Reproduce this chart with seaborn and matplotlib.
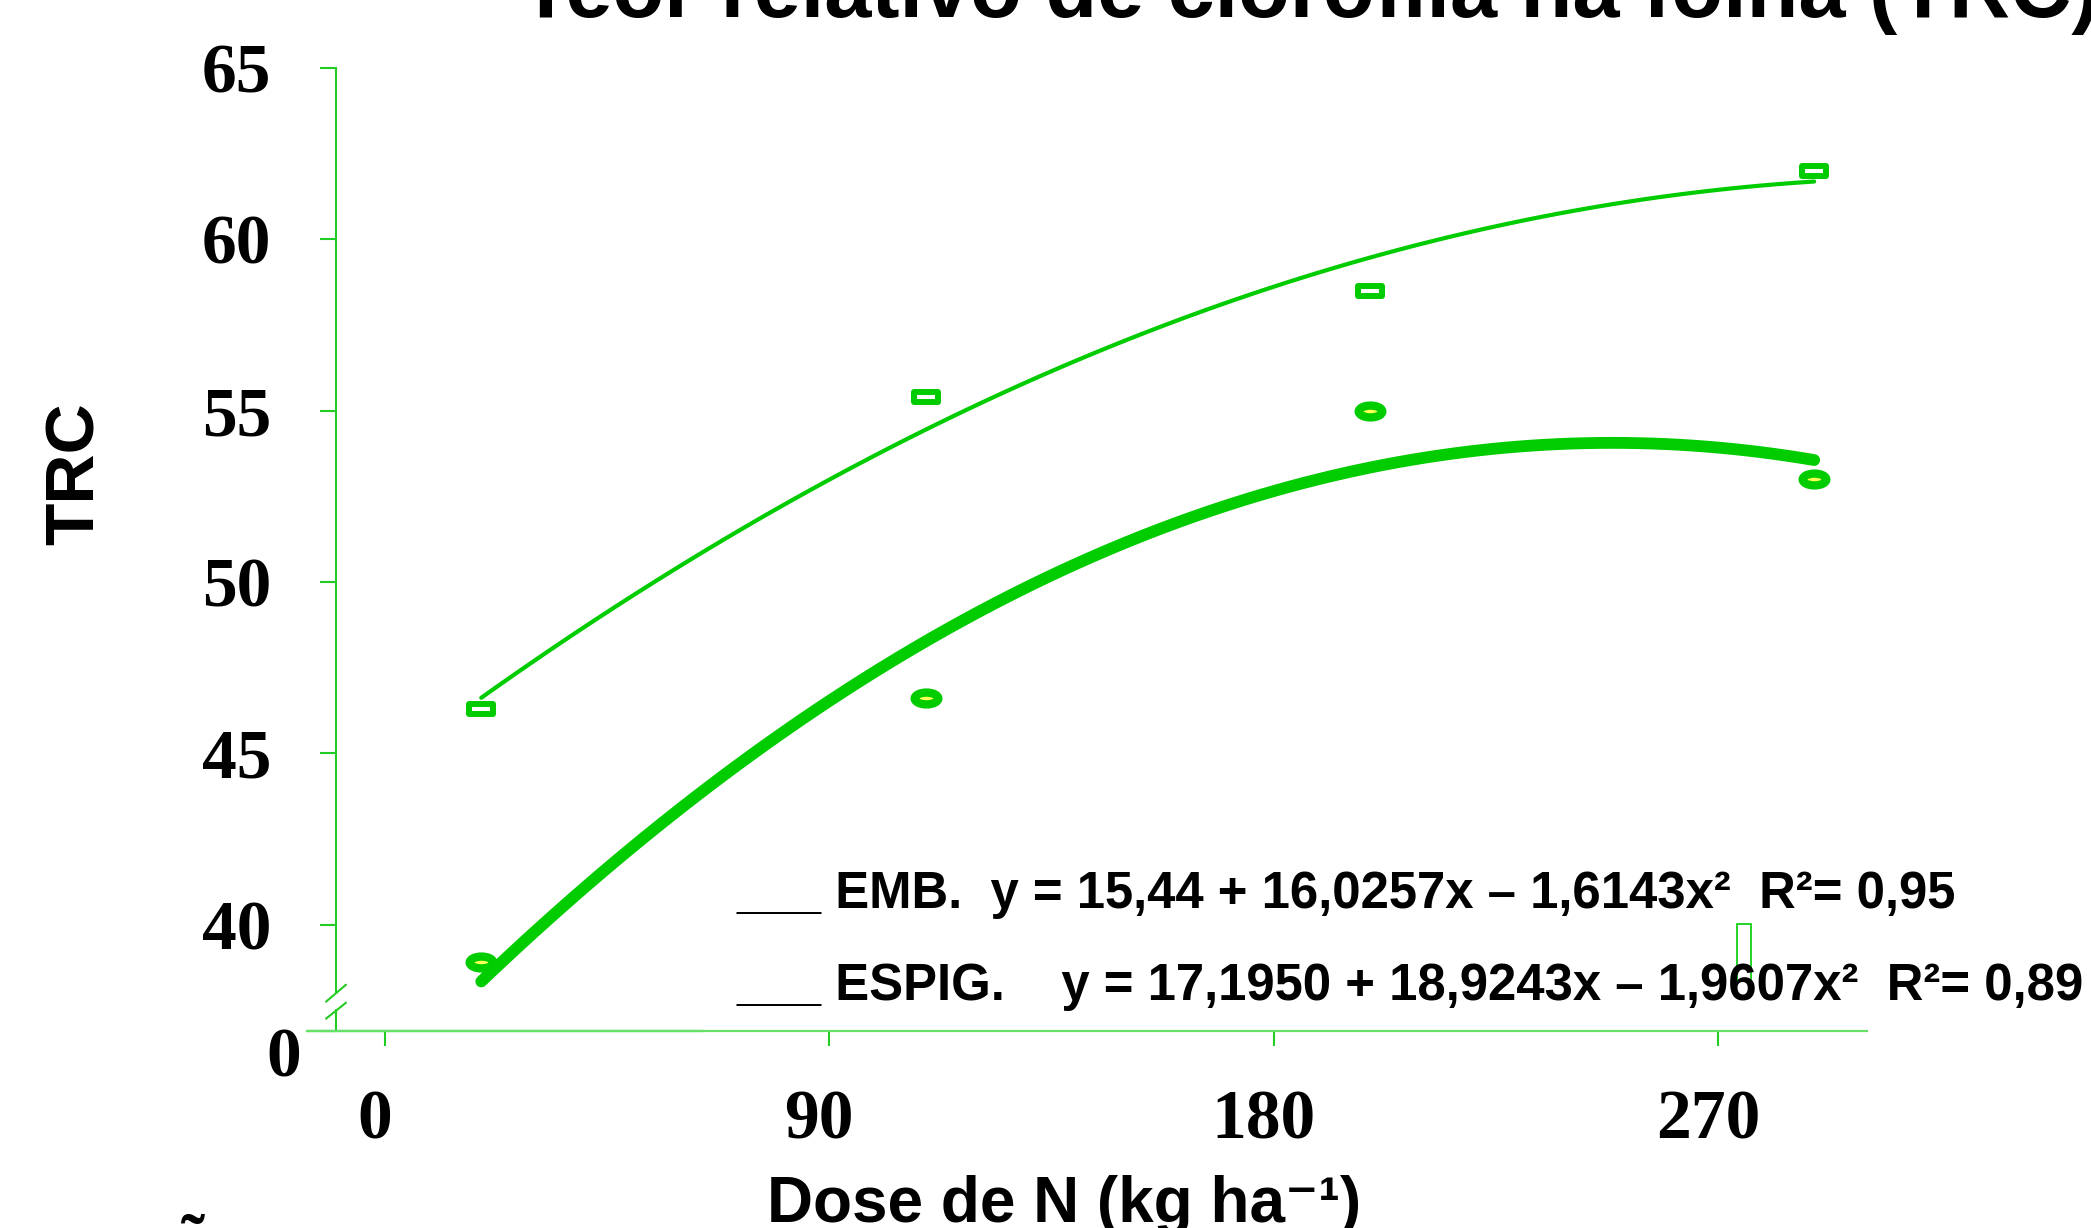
import pandas as pd
import matplotlib.pyplot as plt
import seaborn as sns
from matplotlib.path import Path
from matplotlib.patches import Rectangle
from matplotlib.transforms import ScaledTranslation

# values
dose = [19.5, 109.5, 199.5, 289.5]
trc_emb = [46.3, 55.4, 58.5, 62.0]
trc_espig = [38.9, 46.6, 55.0, 53.0]

x_ticks = [0, 90, 180, 270]
y_ticks = [40, 45, 50, 55, 60, 65]
y_zero = 36.9  # where the broken axis shows "0"

title = 'Teor relativo de clorofila na folha (TRC)'
eq_emb = '___ EMB.  y = 15,44 + 16,0257x – 1,6143x²  R²= 0,95'
eq_espig = '___ ESPIG.    y = 17,1950 + 18,9243x – 1,9607x²  R²= 0,89'

GREEN = '#00cc00'
AXIS_GREEN = '#22cc22'
AXIS_LIGHT = '#66e066'
W, H = 2091, 1228

sns.set_style('ticks')
plt.rcParams['font.family'] = ['Liberation Sans', 'DejaVu Sans']
plt.rcParams['text.color'] = 'black'
plt.rcParams['axes.labelcolor'] = 'black'

df = pd.DataFrame({'dose': dose, 'emb': trc_emb, 'espig': trc_espig})

fig = plt.figure(figsize=(W / 100, H / 100), dpi=100)
ax = fig.add_axes([307 / W, 1 - 1031 / H, 1560 / W, 963.3 / H])

# wide hollow box and squashed ring markers
box = Path([(-1.33, -0.5), (1.33, -0.5), (1.33, 0.5), (-1.33, 0.5), (-1.33, -0.5)],
           [Path.MOVETO, Path.LINETO, Path.LINETO, Path.LINETO, Path.CLOSEPOLY])
circ = Path.unit_circle()
ring = Path(circ.vertices * [1, 0.5], circ.codes)

sns.regplot(data=df, x='dose', y='emb', order=2, ci=None, ax=ax, color=GREEN, marker=box,
            scatter_kws={'s': 300, 'facecolor': 'white', 'edgecolor': GREEN,
                         'linewidths': 4.3, 'alpha': 1, 'zorder': 3},
            line_kws={'lw': 3.0})
sns.regplot(data=df, x='dose', y='espig', order=2, ci=None, ax=ax, color=GREEN, marker=ring,
            scatter_kws={'s': 290, 'facecolor': '#ffff55', 'edgecolor': GREEN,
                         'linewidths': 6.0, 'alpha': 1, 'zorder': 3},
            line_kws={'lw': 8.5})

ax.set_xlim(-15.8, 300.2)
ax.set_ylim(y_zero, 65)
ax.spines['top'].set_visible(False)
ax.spines['right'].set_visible(False)
ax.spines['left'].set_position(('data', -10))
ax.spines['left'].set_bounds(38.05, 65)
ax.spines['left'].set_color(AXIS_GREEN)
ax.spines['left'].set_linewidth(1.5)
ax.spines['bottom'].set_color(AXIS_LIGHT)
ax.spines['bottom'].set_linewidth(1.6)

# axis break
ax.axvline(-10, ymin=0, ymax=(37.52 - y_zero) / (65 - y_zero), color=AXIS_GREEN, lw=1.5)
ax.axhline(y_zero, xmin=0, xmax=0.254, color=AXIS_GREEN, lw=1.6, clip_on=False)
ax.plot([-11.95, -7.9], [37.755, 38.25], color=AXIS_GREEN, lw=1.5, clip_on=False)
ax.plot([-11.95, -7.9], [37.26, 37.725], color=AXIS_GREEN, lw=1.5, clip_on=False)

ax.set_xticks(x_ticks)
ax.set_yticks([y_zero] + y_ticks, labels=['0'] + [str(v) for v in y_ticks])
ax.tick_params(axis='both', direction='out', color=AXIS_GREEN, width=1.5,
               labelsize=50, labelcolor='black')
ax.tick_params(axis='x', length=10.8, pad=31)
ax.tick_params(axis='y', length=11.5, pad=35)
for lab in ax.get_xticklabels() + ax.get_yticklabels():
    lab.set_fontfamily('Liberation Serif')
    lab.set_fontweight('bold')
for lab in ax.get_xticklabels():
    lab.set_transform(lab.get_transform() + ScaledTranslation(-0.1, 0, fig.dpi_scale_trans))
zero_lab = ax.get_yticklabels()[0]
zero_lab.set_transform(zero_lab.get_transform() + ScaledTranslation(0.3, -0.21, fig.dpi_scale_trans))

ax.set_ylabel('TRC', fontsize=50, fontweight='bold')
ax.yaxis.set_label_coords(-0.148, 0.579)
ax.yaxis.label.set_va('center')
ax.set_xlabel('Dose de N (kg ha⁻¹)', fontsize=46, fontweight='bold')
ax.xaxis.set_label_coords(0.485, -0.198)
ax.xaxis.label.set_va('baseline')

fig.text(520 / W, 1 - 17 / H, title, fontsize=61, fontweight='bold', va='baseline')
fig.text(736 / W, 1 - 908 / H, eq_emb, fontsize=36.6, fontweight='bold', va='baseline')
fig.text(736 / W, 1 - 1000 / H, eq_espig, fontsize=36.6, fontweight='bold', va='baseline')
fig.add_artist(Rectangle((1737 / W, 1 - 980 / H), 14 / W, 56 / H, transform=fig.transFigure,
                         fill=False, edgecolor=GREEN, lw=1.2))
fig.text(175 / W, 1 - 1264 / H, 'ã', fontsize=52, fontweight='bold', family='Liberation Serif')

fig.savefig('out.png', dpi=100)
